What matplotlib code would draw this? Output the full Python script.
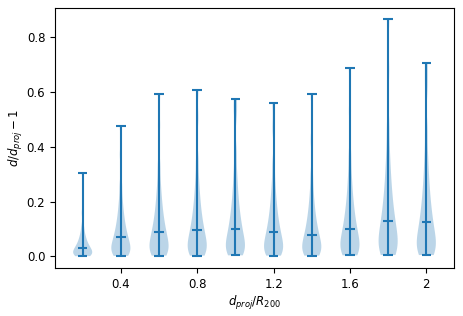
import matplotlib
matplotlib.use('Agg')
import matplotlib.pyplot as plt

# distance bins (d_proj / R200)
positions = [0.2, 0.4, 0.6, 0.8, 1.0, 1.2, 1.4, 1.6, 1.8, 2.0]

# d/d_proj - 1 values in each bin (representative quantiles)
bin_02 = [0.001, 0.002, 0.003, 0.006, 0.008, 0.011, 0.014, 0.017, 0.020, 0.024, 0.028,
          0.032, 0.037, 0.042, 0.049, 0.056, 0.065, 0.075, 0.090, 0.112, 0.160, 0.306]
bin_04 = [0.002, 0.004, 0.008, 0.014, 0.019, 0.026, 0.033, 0.040, 0.048, 0.056, 0.065,
          0.075, 0.087, 0.099, 0.114, 0.130, 0.151, 0.176, 0.210, 0.262, 0.372, 0.478]
bin_06 = [0.003, 0.004, 0.010, 0.017, 0.025, 0.033, 0.042, 0.051, 0.061, 0.072, 0.084,
          0.097, 0.111, 0.127, 0.146, 0.168, 0.194, 0.226, 0.270, 0.336, 0.479, 0.592]
bin_08 = [0.003, 0.004, 0.011, 0.018, 0.026, 0.035, 0.044, 0.054, 0.064, 0.076, 0.088,
          0.102, 0.117, 0.134, 0.154, 0.177, 0.205, 0.239, 0.285, 0.355, 0.505, 0.609]
bin_10 = [0.004, 0.005, 0.012, 0.020, 0.028, 0.038, 0.047, 0.058, 0.069, 0.081, 0.095,
          0.109, 0.126, 0.144, 0.165, 0.190, 0.220, 0.257, 0.306, 0.381, 0.520, 0.576]
bin_12 = [0.003, 0.004, 0.010, 0.017, 0.025, 0.033, 0.042, 0.051, 0.061, 0.072, 0.084,
          0.097, 0.111, 0.127, 0.146, 0.168, 0.194, 0.226, 0.270, 0.336, 0.470, 0.562]
bin_14 = [0.003, 0.004, 0.009, 0.015, 0.022, 0.029, 0.037, 0.045, 0.054, 0.064, 0.074,
          0.086, 0.099, 0.113, 0.130, 0.149, 0.172, 0.201, 0.240, 0.299, 0.426, 0.592]
bin_16 = [0.004, 0.005, 0.011, 0.019, 0.028, 0.037, 0.047, 0.057, 0.068, 0.080, 0.093,
          0.107, 0.124, 0.142, 0.162, 0.186, 0.215, 0.252, 0.300, 0.374, 0.532, 0.687]
bin_18 = [0.005, 0.006, 0.014, 0.025, 0.036, 0.047, 0.060, 0.073, 0.087, 0.102, 0.119,
          0.137, 0.158, 0.181, 0.208, 0.238, 0.276, 0.322, 0.384, 0.478, 0.681, 0.866]
bin_20 = [0.005, 0.006, 0.014, 0.024, 0.034, 0.046, 0.058, 0.070, 0.084, 0.099, 0.115,
          0.133, 0.153, 0.175, 0.201, 0.231, 0.267, 0.312, 0.372, 0.463, 0.620, 0.705]

xtick_pos = [0.4, 0.8, 1.2, 1.6, 2]
xtick_labels = ['0.4', '0.8', '1.2', '1.6', '2']

plt.rcParams['font.size'] = 8.5

fig = plt.figure(figsize=(4.63, 3.16), dpi=100)
ax = fig.add_axes([55 / 463, 48 / 316, 399 / 463, 260.5 / 316])

data = [bin_02, bin_04, bin_06, bin_08, bin_10, bin_12, bin_14, bin_16, bin_18, bin_20]
parts = ax.violinplot(data, positions=positions, widths=0.1,
                      showmedians=True, showextrema=True, bw_method=0.22)
for key in ['cmaxes', 'cmins', 'cbars', 'cmedians']:
    parts[key].set_linewidth(1.5)

ax.set_xticks(xtick_pos)
ax.set_xticklabels(xtick_labels)
ax.set_xlabel('$d_{proj}/R_{200}$', labelpad=2)
ax.set_ylabel('$d/d_{proj}-1$', labelpad=1)

fig.savefig('out.png', dpi=100)
